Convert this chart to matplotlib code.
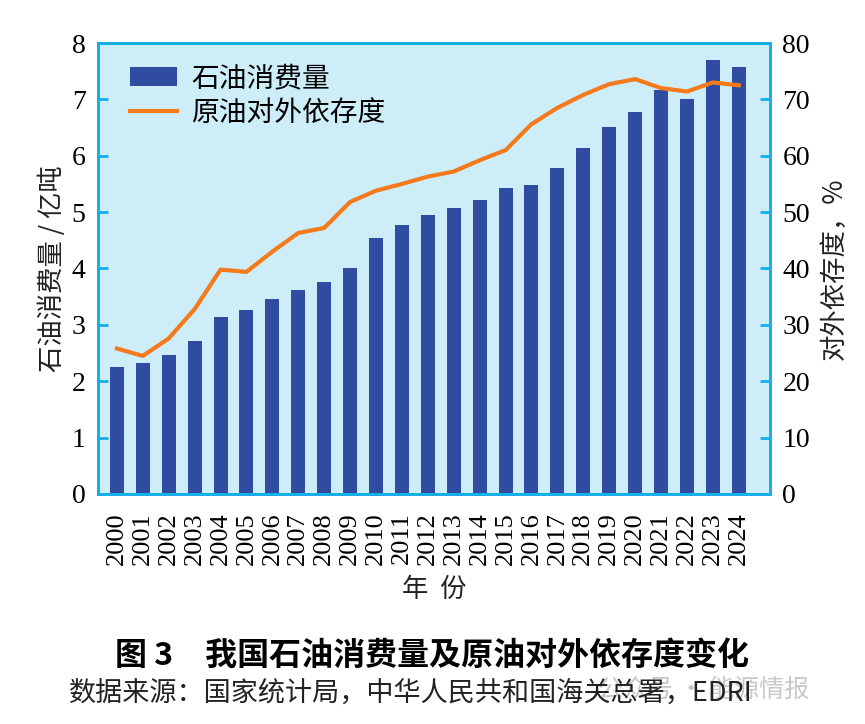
import matplotlib.pyplot as plt
import numpy as np

plt.rcParams['font.family'] = ['Liberation Serif', 'Noto Sans CJK SC']

years = [str(y) for y in range(2000, 2025)]
consumption = [2.25, 2.32, 2.46, 2.72, 3.14, 3.27, 3.46, 3.62, 3.76, 4.01,
               4.54, 4.78, 4.95, 5.08, 5.22, 5.42, 5.49, 5.78, 6.13, 6.51,
               6.77, 7.17, 7.00, 7.70, 7.58]
dependence = [25.8, 24.5, 27.6, 32.8, 39.8, 39.4, 43.0, 46.3, 47.2, 51.8,
              53.8, 55.0, 56.3, 57.2, 59.2, 61.0, 65.6, 68.5, 70.8, 72.7,
              73.6, 72.0, 71.4, 73.0, 72.5]

cyan = '#16aee6'
bar_color = '#2f4ca0'
line_color = '#f47a1c'
cjk = ['Noto Sans CJK SC', 'DejaVu Sans']

fig = plt.figure(figsize=(8.65, 7.24), dpi=100)
ax = fig.add_axes([0.1133, 0.3177, 0.7767, 0.6229])
ax.set_facecolor('#cdeef9')
x = np.arange(len(years))
bars = ax.bar(x, consumption, width=0.54, color=bar_color, label='石油消费量', zorder=2)
ax.set_xlim(-0.73, 25.2)
ax.set_ylim(0, 8)
ax.set_yticks(range(0, 9))
ax.set_xticks(x)
ax.set_xticklabels(years, rotation=90, fontsize=19)
ax.tick_params(axis='x', length=0, pad=13)
ax.tick_params(axis='y', direction='in', length=7, width=2, color=cyan, labelsize=20, pad=9)
for s in ax.spines.values():
    s.set_color(cyan)
    s.set_linewidth(2)
ax.set_ylabel('石油消费量 / 亿吨', family=cjk, fontsize=19, color='#222222', labelpad=4)
ax.set_xlabel('年  份', family=cjk, fontsize=19, color='#222222', labelpad=8)

ax2 = ax.twinx()
line, = ax2.plot(x, dependence, color=line_color, lw=3, label='原油对外依存度', zorder=3)
ax2.set_ylim(0, 80)
ax2.set_yticks(range(0, 90, 10))
ax2.tick_params(axis='y', direction='in', length=7, width=2, color=cyan, labelsize=20, pad=9)
for s in ax2.spines.values():
    s.set_color(cyan)
    s.set_linewidth(2)
ax2.set_ylabel('对外依存度，%', family=cjk, fontsize=19, color='#222222', labelpad=8)

leg = ax.legend([bars, line], ['石油消费量', '原油对外依存度'], loc='upper left',
                bbox_to_anchor=(0.01, 1.01), frameon=False,
                prop={'family': cjk, 'size': 20}, handlelength=1.7,
                labelspacing=0.15, handletextpad=0.5)

fig.text(0.5, 0.094, '图 3　我国石油消费量及原油对外依存度变化', family=cjk,
         fontsize=23, fontweight='bold', ha='center', va='center')
fig.text(0.935, 0.047, '公众号 · 能源情报', family=cjk, fontsize=18, ha='right',
         va='center', color='#bbbbbb', alpha=0.8)
fig.text(0.08, 0.043, '数据来源：国家统计局，中华人民共和国海关总署，EDRI', family=cjk,
         fontsize=19.5, ha='left', va='center', color='#222222')

fig.savefig('out.png', dpi=100)
